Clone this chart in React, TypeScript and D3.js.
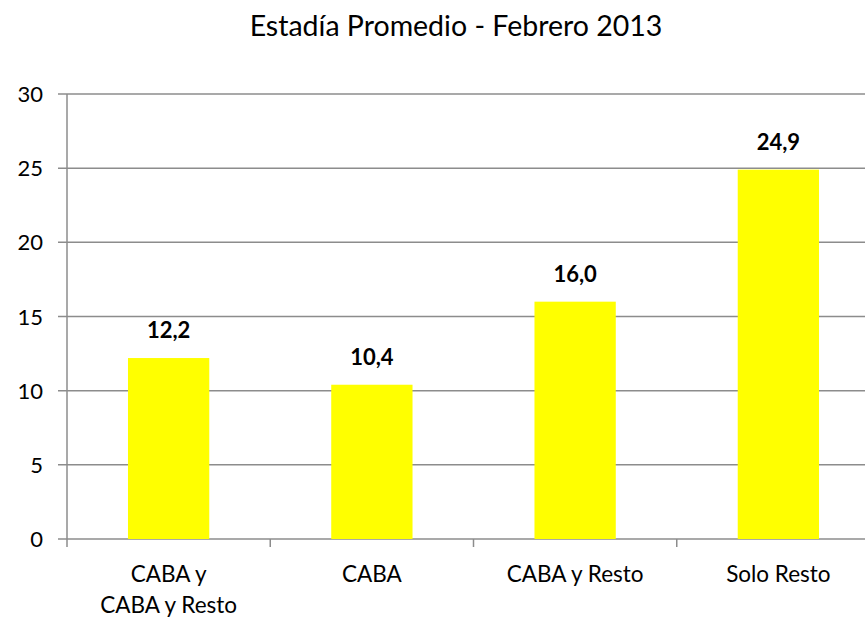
import React from "react";
import * as d3 from "d3";

const categories: string[][] = [["CABA y", "CABA y Resto"], ["CABA"], ["CABA y Resto"], ["Solo Resto"]];
const values: number[] = [12.2, 10.4, 16.0, 24.9];
const yTicks: number[] = [0, 5, 10, 15, 20, 25, 30];
const title = "Estadía Promedio - Febrero 2013";

const W = 865;
const H = 618;
const left = 67;
const right = 880;
const top = 94;
const bottom = 539;
const FONT = "Lato, 'Open Sans', 'DejaVu Sans', sans-serif";

export default function App() {
  const keys = categories.map((_, i) => String(i));
  const x = d3.scaleBand<string>().domain(keys).range([left, right]).paddingInner(0).paddingOuter(0);
  const y = d3.scaleLinear().domain([0, 30]).range([bottom, top]);
  const bw = x.bandwidth() * 0.4;
  const fmt = (v: number) => v.toFixed(1).replace(".", ",");
  const grid = "#8c8c8c";

  return (
    <svg width={W} height={H} style={{ position: "absolute", left: 0, top: 0, background: "#fff" }}>
      <text x={456} y={36} textAnchor="middle" fontFamily={FONT} fontSize={28.5} fill="#000">
        {title}
      </text>
      {yTicks.map((t) => (
        <g key={t}>
          <line x1={58} x2={right} y1={y(t)} y2={y(t)} stroke={grid} strokeWidth={1.5} />
          <text x={43} y={y(t) + 8} textAnchor="end" fontFamily={FONT} fontSize={22} fill="#000">
            {t}
          </text>
        </g>
      ))}
      <line x1={left} x2={left} y1={top} y2={bottom} stroke={grid} strokeWidth={1.5} />
      {keys.map((k) => (
        <line key={"t" + k} x1={x(k)!} x2={x(k)!} y1={bottom} y2={bottom + 8} stroke={grid} strokeWidth={1.5} />
      ))}
      {values.map((v, i) => {
        const cx = x(keys[i])! + x.bandwidth() / 2;
        return (
          <g key={i}>
            <rect x={cx - bw / 2} y={y(v)} width={bw} height={y(0) - y(v)} fill="#ffff00" />
            <text x={cx} y={y(v) - 20} textAnchor="middle" fontFamily={FONT} fontSize={22} fontWeight="bold" fill="#000">
              {fmt(v)}
            </text>
          </g>
        );
      })}
      {categories.map((lines, i) => {
        const cx = x(keys[i])! + x.bandwidth() / 2;
        return (
          <text key={"c" + i} textAnchor="middle" fontFamily={FONT} fontSize={22.5} fill="#000">
            {lines.map((l, j) => (
              <tspan key={j} x={cx} y={582 + j * 31}>
                {l}
              </tspan>
            ))}
          </text>
        );
      })}
    </svg>
  );
}
